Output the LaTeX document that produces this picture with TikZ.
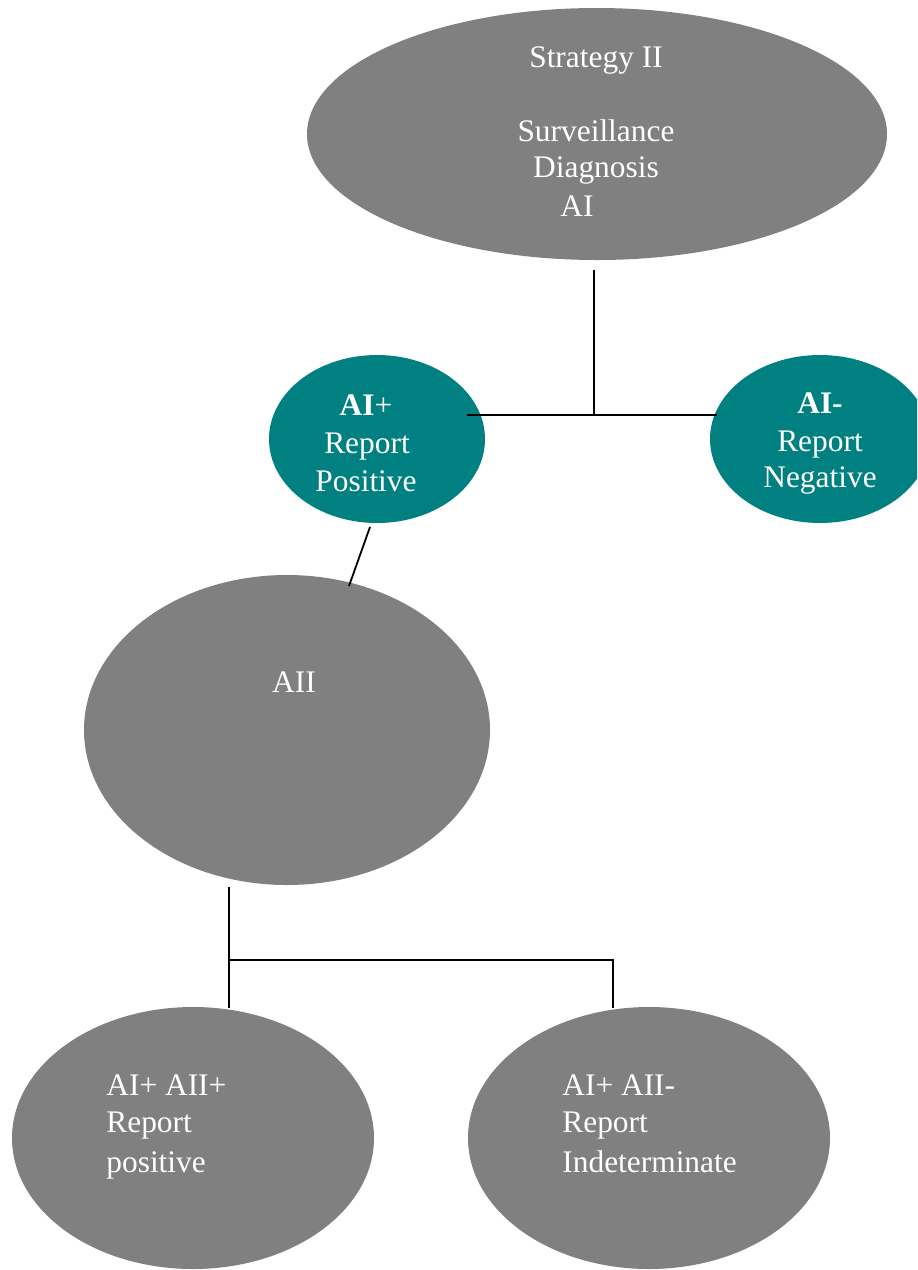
\documentclass[tikz,border=0pt]{standalone}
\usepackage{fontspec}
\setmainfont{Liberation Serif}
\usetikzlibrary{shapes.geometric}
\definecolor{ovgrey}{HTML}{808080}
\definecolor{ovteal}{HTML}{008080}
\begin{document}
\begin{tikzpicture}[x=0.5pt,y=-0.5pt,
  greyov/.style={ellipse,fill=ovgrey,draw=none,inner sep=0pt,outer sep=0pt},
  tealov/.style={ellipse,fill=ovteal,draw=none,inner sep=0pt,outer sep=0pt},
  txt/.style={text=white,inner sep=0pt,font=\fontsize{15.7pt}{18.5pt}\selectfont},
  conn/.style={draw=black,line width=0.9pt}]
\useasboundingbox (0,0) rectangle (917,1270);
\begin{scope}
\clip (0,0) rectangle (917,1270);
% ovals
\node[greyov,minimum width=290pt,minimum height=126pt] (top) at (597,134) {};
\node[tealov,minimum width=108pt,minimum height=84pt] (pos) at (377,439) {};
\node[tealov,minimum width=110pt,minimum height=84pt] (neg) at (820,439) {};
\node[greyov,minimum width=203pt,minimum height=155pt] (aii) at (287,730) {};
\node[greyov,minimum width=181pt,minimum height=131pt] (bl) at (193,1138) {};
\node[greyov,minimum width=181pt,minimum height=131pt] (br) at (649,1138) {};
\end{scope}
% texts
\node[txt,anchor=base] (t1) at (596,67) {Strategy II};
\node[txt,anchor=base] (t2) at (596,141) {Surveillance};
\node[txt,anchor=base] (t3) at (596,177) {Diagnosis};
\node[txt,anchor=base west] (t4) at (560,216) {AI};
\node[txt,anchor=base] (p1) at (366,415) {\textbf{AI}+};
\node[txt,anchor=base] (p2) at (367,453) {Report};
\node[txt,anchor=base] (p3) at (366,491) {Positive};
\node[txt,anchor=base] (n1) at (820,413) {\textbf{AI-}};
\node[txt,anchor=base] (n2) at (820,451) {Report};
\node[txt,anchor=base] (n3) at (820,487) {Negative};
\node[txt,anchor=base] (a1) at (294,692) {AII};
\node[txt,anchor=base west] (l1) at (106,1095) {AI+ AII+};
\node[txt,anchor=base west] (l2) at (106,1132) {Report};
\node[txt,anchor=base west] (l3) at (106,1172) {positive};
\node[txt,anchor=base west] (r1) at (562,1095) {AI+ AII-};
\node[txt,anchor=base west] (r2) at (562,1132) {Report};
\node[txt,anchor=base west] (r3) at (562,1172) {Indeterminate};
% connector points
\coordinate (topfoot) at (594,270);
\coordinate (j1) at (594,415);
\coordinate (posr) at (467,415);
\coordinate (negl) at (717,415);
\coordinate (posfoot) at (370,527);
\coordinate (aiitop) at (349,586);
\coordinate (aiifoot) at (229,887);
\coordinate (j2) at (229,960);
\coordinate (blt) at (229,1008);
\coordinate (j3) at (613,960);
\coordinate (brt) at (613,1008);
% connectors
\draw[conn] (topfoot) -- (j1);
\draw[conn] (posr) -- (negl);
\draw[conn] (posfoot) -- (aiitop);
\draw[conn] (aiifoot) -- (blt);
\draw[conn] (j2) -- (j3) -- (brt);
\end{tikzpicture}
\end{document}
